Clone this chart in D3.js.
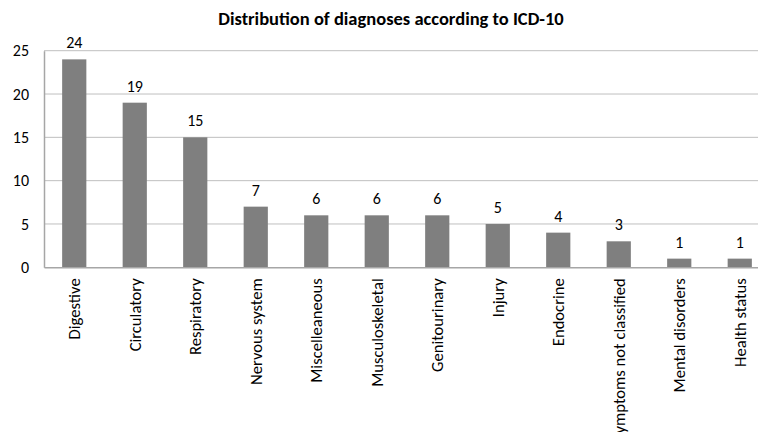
<!DOCTYPE html>
<html><head><meta charset="utf-8">
<script src="https://cdn.jsdelivr.net/npm/d3@7"></script>
<style>body{margin:0;background:#fff}svg{display:block}text{font-family:Carlito,Lato,"Open Sans",sans-serif;fill:#000}</style>
</head><body>
<svg id="c" width="758" height="432"></svg>
<script>
const categories = ["Digestive","Circulatory","Respiratory","Nervous system","Miscelleaneous","Musculoskeletal","Genitourinary","Injury","Endocrine","Symptoms not classified","Mental disorders","Health status"];
const values = [24,19,15,7,6,6,6,5,4,3,1,1];
const yTicks = [0,5,10,15,20,25];
const title = "Distribution of diagnoses according to ICD-10";

const FONT = "Carlito, Lato, sans-serif";
const svg = d3.select("#c");
const mLeft = 44, mRight = 770, mTop = 50.7, mBottom = 267.3;
const x = d3.scaleBand().domain(categories).range([mLeft, mRight]).paddingInner(0.6).paddingOuter(0.3);
const y = d3.scaleLinear().domain([0,25]).range([mBottom, mTop]);

// gridlines
svg.append("g").selectAll("line").data(yTicks.filter(d=>d>0)).join("line")
  .attr("x1", mLeft).attr("x2", mRight).attr("y1", d=>y(d)).attr("y2", d=>y(d))
  .attr("stroke", "#bfbfbf").attr("stroke-width", 1);

// bars
svg.append("g").selectAll("rect").data(values).join("rect")
  .attr("x", (d,i)=>x(categories[i])).attr("width", x.bandwidth())
  .attr("y", d=>y(d)).attr("height", d=>mBottom - y(d))
  .attr("fill", "#7f7f7f");

// axes
const ya = svg.append("g").attr("transform", `translate(${mLeft},0)`)
  .call(d3.axisLeft(y).tickValues(yTicks).tickSize(0).tickPadding(15));
ya.select(".domain").attr("stroke", "#a6a6a6").attr("stroke-width", 1.5);
ya.selectAll("text").attr("font-size", 16).attr("font-family", FONT).attr("fill", "#000");

const xa = svg.append("g").attr("transform", `translate(0,${mBottom})`)
  .call(d3.axisBottom(x).tickSize(0).tickSizeOuter(0));
xa.select(".domain").attr("stroke", "#a6a6a6").attr("stroke-width", 1.5);
xa.selectAll("text").attr("font-size", 16.6).attr("font-family", FONT).attr("fill", "#000")
  .attr("text-anchor", "end").attr("transform", "rotate(-90)")
  .attr("x", -11).attr("y", 0).attr("dy", "0.35em");

// value labels
svg.append("g").selectAll("text").data(values).join("text")
  .attr("x", (d,i)=>x(categories[i]) + x.bandwidth()/2).attr("y", d=>y(d) - 11)
  .attr("text-anchor", "middle").attr("font-size", 16).text(d=>d);

// title
svg.append("text").attr("x", 391).attr("y", 25).attr("text-anchor", "middle")
  .attr("font-size", 18.5).attr("font-weight", "bold").text(title);
</script>
</body></html>
